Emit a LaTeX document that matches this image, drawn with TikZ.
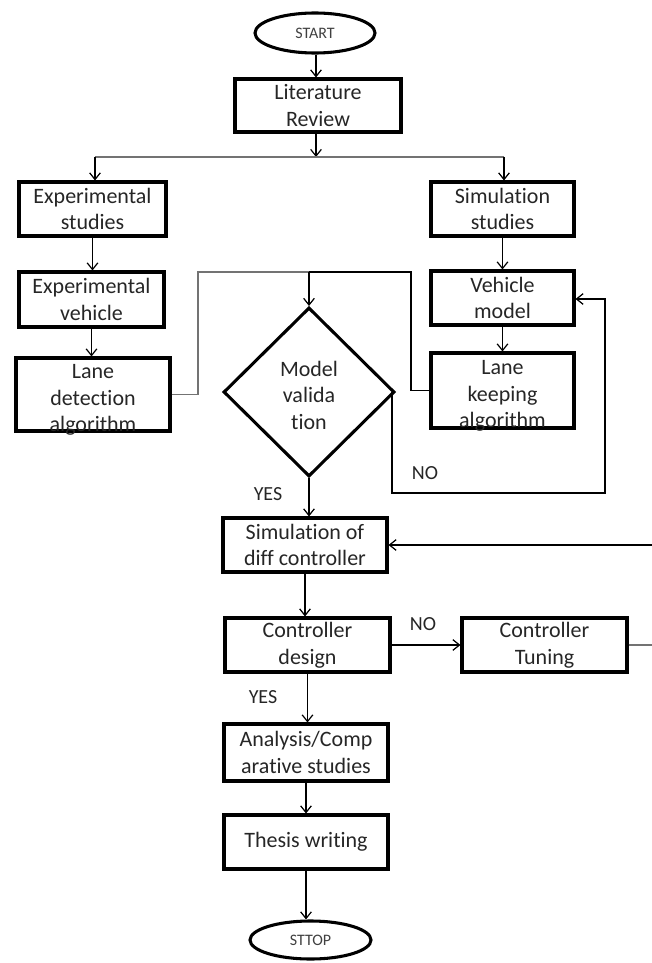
\documentclass[tikz,border=0pt]{standalone}
\usepackage{fontspec}
\setmainfont{Carlito}[Ligatures={NoCommon,NoRare,NoContextual}]
\usetikzlibrary{shapes.geometric,arrows.meta}
\begin{document}
\begin{tikzpicture}[x=0.75pt,y=-0.75pt,
  bsize/.style 2 args={minimum width=#1*0.75pt, minimum height=#2*0.75pt},
  btext/.style={align=center, inner sep=0pt, font=\fontsize{16.5}{20}\selectfont, text=black!85},
  box/.style={draw=black, line width=2.3pt, rectangle, btext},
  lowbox/.style={draw=black, line width=2.3pt, rectangle, inner sep=0pt,
    label={[btext, yshift=-4pt]center:#1}},
  term/.style={draw=black, line width=2.3pt, ellipse, inner sep=0pt,
    font=\fontsize{12}{14}\selectfont, text=black!75},
  decision/.style={draw=black, line width=2.3pt, diamond, inner sep=0pt,
    label={[btext, yshift=-2.5pt]center:#1}},
  conn/.style={draw=black, line width=0.9pt},
  gconn/.style={draw=black!55, line width=1.4pt},
  arr/.style={conn, -{Straight Barb[length=5pt,width=8pt]}},
  lbl/.style={font=\fontsize{15}{18}\selectfont, text=black!85, inner sep=0pt}
]
\useasboundingbox (0,0) rectangle (651,963);

% nodes
\node[term, bsize={120}{40}] (start) at (315,33) {START};
\node[box, bsize={166}{53}] (lit) at (318,105.5) {Literature\\Review};
\node[box, bsize={147}{54}] (exps) at (92.5,209) {Experimental\\studies};
\node[box, bsize={143}{54}] (sims) at (502.5,209) {Simulation\\studies};
\node[box, bsize={145}{55}] (expv) at (91.5,299.5) {Experimental\\vehicle};
\node[lowbox={Lane\\detection\\algorithm}, bsize={154}{73}] (ld) at (93,394.5) {};
\node[box, bsize={143}{54}] (vm) at (502.5,298) {Vehicle\\model};
\node[lowbox={Lane\\keeping\\algorithm}, bsize={143}{75}] (lk) at (502.5,390.5) {};
\node[decision={Model\\valida\\tion}, bsize={171}{169}] (mv) at (309,392) {};
\node[box, bsize={164}{54}] (simd) at (305,545) {Simulation of\\diff controller};
\node[box, bsize={165}{54}] (cd) at (307.5,645) {Controller\\design};
\node[box, bsize={165}{54}] (ct) at (544.5,645) {Controller\\Tuning};
\node[box, bsize={164}{57}] (an) at (306,752.5) {Analysis/Comp\\arative studies};
\node[box, bsize={164}{54}] (tw) at (306,842) {Thesis writing};
\node[term, bsize={121}{38}] (stop) at (310.5,940) {STTOP};

% labels
\node[lbl] (no1) at (425,473) {NO};
\node[lbl] (yes1) at (268,494) {YES};
\node[lbl] (no2) at (423,624) {NO};
\node[lbl] (yes2) at (263,697) {YES};

% helper coordinates
\coordinate (jn) at (316,157);
\coordinate (jl) at (95,157);
\coordinate (jr) at (504,157);
\coordinate (tl) at (198,272);
\coordinate (tr) at (411,272);
\coordinate (nob) at (392,493);
\coordinate (nor) at (605,493);
\coordinate (not) at (605,299);
\coordinate (fbr) at (654,545);

% connectors
\draw[arr] (start.south -| jn) -- (jn |- lit.north);
\draw[arr] (lit.south -| jn) -- (jn);
\draw[gconn] (jl) -- (jr);
\draw[arr] (jl) -- (jl |- exps.north);
\draw[arr] (jr) -- (jr |- sims.north);
\draw[arr] (exps.south) -- (exps.south |- expv.north);
\draw[arr] (expv.south) -- (expv.south |- ld.north);
\draw[arr] (sims.south) -- (sims.south |- vm.north);
\draw[arr] (vm.south) -- (vm.south |- lk.north);
\draw[gconn] (ld.east) -- (ld.east -| tl) -- (tl) -- (mv.north |- tl);
\draw[conn] (mv.north |- tl) -- (tr) -- (tr |- lk.west) -- (lk.west);
\draw[arr] (mv.north |- tl) -- (mv.north);
\draw[arr] (mv.east -| nob) -- (nob) -- (nor) -- (not) -- (not -| vm.east);
\draw[arr] (mv.south) -- (mv.south |- simd.north);
\draw[arr] (simd.south) -- (simd.south |- cd.north);
\draw[arr] (cd.east) -- (ct.west);
\draw[gconn] (ct.east) -- (ct.east -| fbr);
\draw[arr] (ct.east -| fbr) -- (fbr) -- (simd.east);
\draw[arr] (cd.south) -- (cd.south |- an.north);
\draw[arr] (an.south) -- (an.south |- tw.north);
\draw[arr] (tw.south) -- (tw.south |- stop.north);
\end{tikzpicture}
\end{document}
